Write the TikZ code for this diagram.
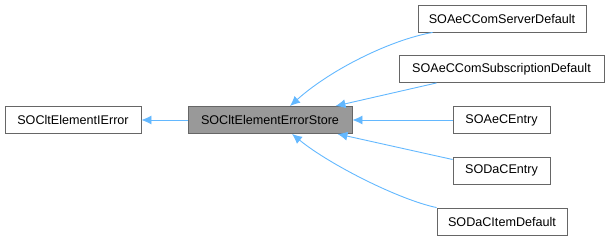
\documentclass[tikz,border=0pt]{standalone}
\usepackage{fontspec}
\setmainfont{Liberation Sans}
\usetikzlibrary{arrows.meta,calc}
\definecolor{edgeblue}{HTML}{63B8FF}
\definecolor{boxline}{HTML}{666666}
\definecolor{curfill}{HTML}{999999}
\tikzset{
  cls/.style={draw=boxline, line width=0.9pt, fill=white, inner sep=0pt,
    minimum height=27pt, font=\fontsize{12.6}{14}\selectfont, anchor=center},
  cur/.style={cls, fill=curfill},
  inh/.style={draw=edgeblue, line width=0.9pt,
    -{Latex[length=10pt,width=9pt]}}
}
\begin{document}
\begin{tikzpicture}[x=1pt,y=-1pt]
  \useasboundingbox (0,0) rectangle (610,240);
  % classes
  \node[cls, minimum width=136pt] (ie)   at (73,120)    {SOCltElementIError};
  \node[cur, minimum width=164pt] (st)   at (270,120)   {SOCltElementErrorStore};
  \node[cls, minimum width=168pt] (csd)  at (502,18.5)  {SOAeCComServerDefault};
  \node[cls, minimum width=205pt] (csub) at (501.5,69)  {SOAeCComSubscriptionDefault};
  \node[cls, minimum width=97pt]  (aec)  at (501.5,120) {SOAeCEntry};
  \node[cls, minimum width=97pt]  (dac)  at (501.5,170.5) {SODaCEntry};
  \node[cls, minimum width=130pt] (item) at (502,221.5) {SODaCItemDefault};
  % inheritance edges
  \draw[inh] (st.west) -- (ie.east);
  \draw[inh] ($(csd.south west)+(15,0)$) .. controls (390,40) and (330,70) .. ($(st.north)+(20,0)$);
  \draw[inh] ($(csub.south west)+(38,0)$) -- ($(st.north east)+(-17,0)$);
  \draw[inh] (aec.west) -- (st.east);
  \draw[inh] ($(dac.west)+(0,-11)$) -- ($(st.south east)+(-15,0)$);
  \draw[inh] ($(item.north west)$) .. controls (400,200) and (330,165) .. ($(st.south)+(22,0)$);
\end{tikzpicture}
\end{document}
